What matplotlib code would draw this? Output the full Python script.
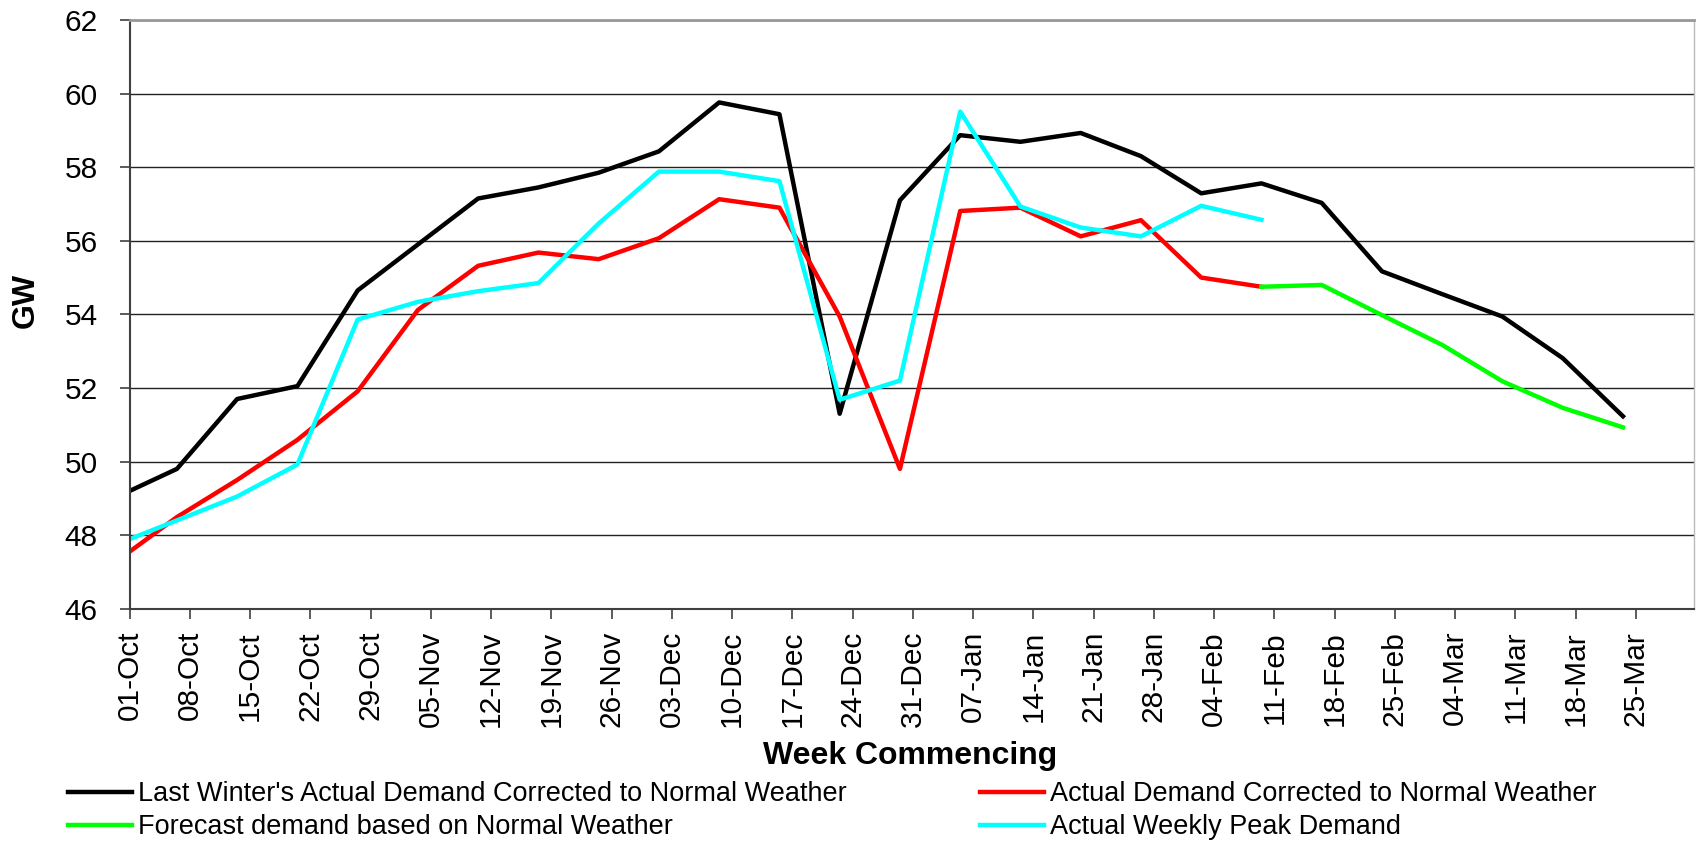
import numpy as np
import pandas as pd
import matplotlib
matplotlib.use("Agg")
import matplotlib.pyplot as plt

plt.rcParams['font.family'] = ['Liberation Sans', 'DejaVu Sans']

# week commencing tick labels (Mondays)
weeks = ["01-Oct", "08-Oct", "15-Oct", "22-Oct", "29-Oct", "05-Nov", "12-Nov",
         "19-Nov", "26-Nov", "03-Dec", "10-Dec", "17-Dec", "24-Dec", "31-Dec",
         "07-Jan", "14-Jan", "21-Jan", "28-Jan", "04-Feb", "11-Feb", "18-Feb",
         "25-Feb", "04-Mar", "11-Mar", "18-Mar", "25-Mar"]

# dates the weekly values are plotted at
point_dates = ["2012-10-01 00:00", "2012-10-06 12:00", "2012-10-13 12:00",
               "2012-10-20 12:00", "2012-10-27 12:00", "2012-11-03 12:00",
               "2012-11-10 12:00", "2012-11-17 12:00", "2012-11-24 12:00",
               "2012-12-01 12:00", "2012-12-08 12:00", "2012-12-15 12:00",
               "2012-12-22 12:00", "2012-12-29 12:00", "2013-01-05 12:00",
               "2013-01-12 12:00", "2013-01-19 12:00", "2013-01-26 12:00",
               "2013-02-02 12:00", "2013-02-09 12:00", "2013-02-16 12:00",
               "2013-02-23 12:00", "2013-03-02 12:00", "2013-03-09 12:00",
               "2013-03-16 12:00", "2013-03-23 12:00"]

nan = np.nan
last_winter = [49.2, 49.8, 51.7, 52.05, 54.65, 55.9, 57.15, 57.45, 57.85, 58.43,
               59.76, 59.44, 51.3, 57.1, 58.87, 58.69, 58.93, 58.3, 57.29, 57.56,
               57.03, 55.17, 54.55, 53.94, 52.81, 51.23]
actual_corrected = [47.55, 48.49, 49.5, 50.59, 51.91, 54.12, 55.32, 55.68, 55.5, 56.07,
                    57.13, 56.9, 53.94, 49.8, 56.81, 56.9, 56.12, 56.56, 55.0, 54.75,
                    nan, nan, nan, nan, nan, nan]
forecast = [nan] * 19 + [54.75, 54.8, 53.98, 53.17, 52.18, 51.46, 50.93]
weekly_peak = [47.89, 48.4, 49.05, 49.92, 53.86, 54.34, 54.63, 54.85, 56.47, 57.88,
               57.88, 57.62, 51.68, 52.2, 59.51, 56.93, 56.36, 56.12, 56.95, 56.57,
               nan, nan, nan, nan, nan, nan]

x = pd.to_datetime(point_dates)
tick_dates = pd.to_datetime(
    [w + ("-2012" if w[3:] in ("Oct", "Nov", "Dec") else "-2013") for w in weeks],
    format="%d-%b-%Y")

fig = plt.figure(figsize=(16.96, 8.41), dpi=100)
ax = fig.add_axes([0.0764, 0.2762, 0.9224, 0.7000])

lw = 3.2
ax.plot(x, last_winter, color="#000000", lw=lw,
        label="Last Winter's Actual Demand Corrected to Normal Weather")
ax.plot(x, actual_corrected, color="#FF0000", lw=lw,
        label="Actual Demand Corrected to Normal Weather")
ax.plot(x, forecast, color="#00FF00", lw=lw,
        label="Forecast demand based on Normal Weather")
ax.plot(x, weekly_peak, color="#00FFFF", lw=lw,
        label="Actual Weekly Peak Demand")

ax.set_ylim(46, 62)
ax.set_yticks(np.arange(46, 63, 2))
ax.set_xlim(pd.Timestamp("2012-10-01"), pd.Timestamp("2013-03-31 18:00"))
ax.set_xticks(tick_dates)
ax.set_xticklabels(weeks, rotation=90)

ax.grid(axis="y", color="#222222", lw=1)
ax.set_axisbelow(True)
for s in ("left", "bottom"):
    ax.spines[s].set_color("#404040")
    ax.spines[s].set_linewidth(1.5)
ax.spines["top"].set_color("#999999")
ax.spines["top"].set_linewidth(2)
ax.spines["right"].set_color("#bbbbbb")
ax.spines["right"].set_linewidth(1)

ax.tick_params(axis="y", labelsize=21.5, length=7, width=1.2, color="#404040", pad=16)
ax.tick_params(axis="x", labelsize=21.5, length=7, width=1.2, color="#404040", pad=9)

fig.text(25.5 / 1696, 1 - 300 / 841, "GW", rotation=90, fontsize=23,
         fontweight="bold", ha="center", va="center")
fig.text(909.7 / 1696, 1 - 756 / 841, "Week Commencing", fontsize=23,
         fontweight="bold", ha="center", va="center")

h, l = ax.get_legend_handles_labels()
order = [0, 2, 1, 3]
fig.legend([h[i] for i in order], [l[i] for i in order], ncol=2,
           loc="upper left", bbox_to_anchor=(68 / 1696, 1 - 781 / 841),
           bbox_transform=fig.transFigure, frameon=False, fontsize=19.5,
           handlelength=2.36, handletextpad=0.24, columnspacing=4.9,
           labelspacing=0.27, borderpad=0, borderaxespad=0)

fig.savefig("out.png", dpi=100)
